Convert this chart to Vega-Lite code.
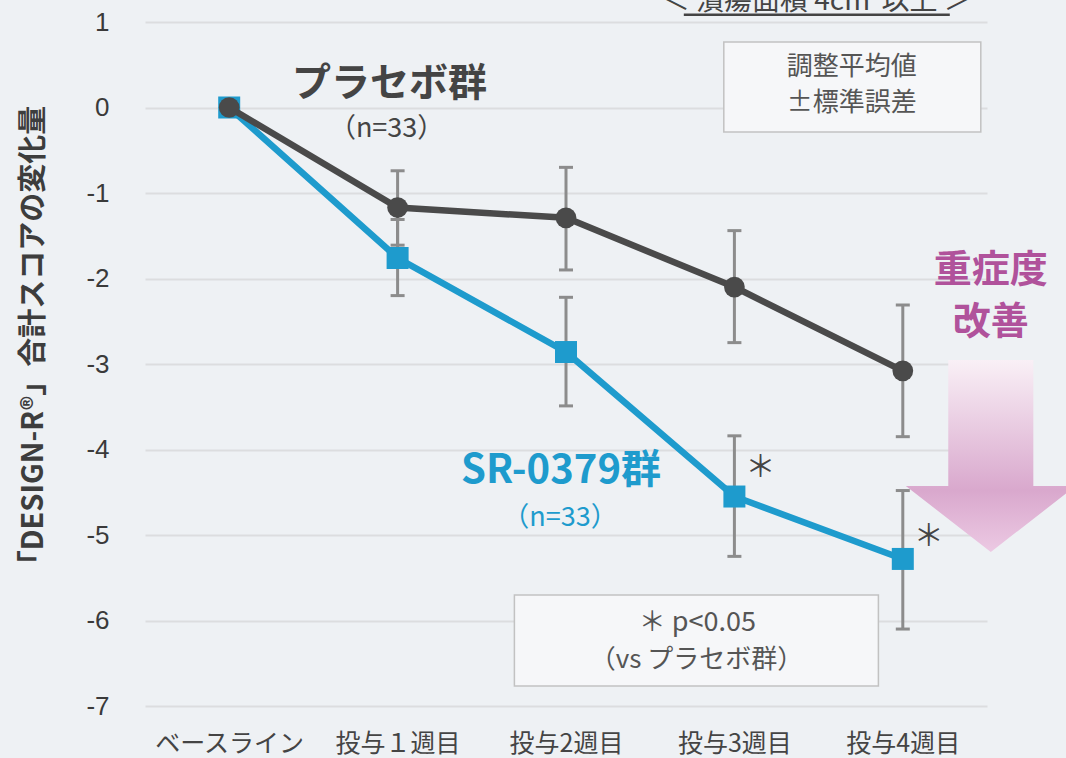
{
  "$schema": "https://vega.github.io/schema/vega-lite/v6.json",
  "width": 842,
  "height": 684,
  "autosize": {"type": "none"},
  "padding": {"left": 145, "top": 22, "right": 79, "bottom": 52},
  "background": "#eef1f4",
  "config": {"view": {"stroke": null}, "font": "Noto Sans CJK JP"},
  "datasets": {
    "pts": [
      {"week": "ベースライン", "group": "SR-0379群", "mean": 0, "lo": null, "hi": null},
      {"week": "投与１週目", "group": "SR-0379群", "mean": -1.76, "lo": -2.2, "hi": -1.31},
      {"week": "投与2週目", "group": "SR-0379群", "mean": -2.86, "lo": -3.49, "hi": -2.22},
      {"week": "投与3週目", "group": "SR-0379群", "mean": -4.55, "lo": -5.25, "hi": -3.84},
      {"week": "投与4週目", "group": "SR-0379群", "mean": -5.28, "lo": -6.1, "hi": -4.48},
      {"week": "ベースライン", "group": "プラセボ群", "mean": 0, "lo": null, "hi": null},
      {"week": "投与１週目", "group": "プラセボ群", "mean": -1.17, "lo": -1.61, "hi": -0.74},
      {"week": "投与2週目", "group": "プラセボ群", "mean": -1.29, "lo": -1.9, "hi": -0.7},
      {"week": "投与3週目", "group": "プラセボ群", "mean": -2.1, "lo": -2.75, "hi": -1.44},
      {"week": "投与4週目", "group": "プラセボ群", "mean": -3.08, "lo": -3.85, "hi": -2.31}
    ],
    "notes": [
      {"t": "note"}
    ]
  },
  "layer": [
    {
      "data": {"name": "pts"},
      "transform": [{"filter": "datum.lo != null"}],
      "mark": {"type": "rule", "color": "#8c8c8c", "strokeWidth": 3},
      "encoding": {
        "x": {
          "field": "week",
          "type": "nominal",
          "sort": null,
          "scale": {"type": "point", "padding": 0.5, "domain": ["ベースライン", "投与１週目", "投与2週目", "投与3週目", "投与4週目"]},
          "axis": {
            "title": null,
            "labelAngle": 0,
            "labelFont": "Noto Sans CJK JP",
            "labelFontSize": 25,
            "labelColor": "#444444",
            "labelPadding": 25,
            "ticks": false,
            "domain": false,
            "grid": false
          }
        },
        "y": {
          "field": "lo",
          "type": "quantitative",
          "scale": {"domain": [-7, 1], "nice": false, "zero": false},
          "axis": {
            "title": "「DESIGN-R®」合計スコアの変化量",
            "titleFont": "Noto Sans CJK JP",
            "titleFontWeight": "bold",
            "titleFontSize": 29,
            "titleColor": "#3d3d3d",
            "titleAngle": -90,
            "titleAlign": "center",
            "titleBaseline": "middle",
            "titleX": -112,
            "titleY": 320,
            "values": [-7, -6, -5, -4, -3, -2, -1, 0, 1],
            "labelExpr": "'' + datum.value",
            "labelFont": "Liberation Sans",
            "labelFontSize": 26,
            "labelColor": "#3a3a3a",
            "labelPadding": 36,
            "ticks": false,
            "domain": false,
            "grid": true,
            "gridColor": "#dcdddf",
            "gridWidth": 2
          }
        },
        "y2": {"field": "hi"}
      }
    },
    {
      "data": {"name": "pts"},
      "transform": [{"filter": "datum.lo != null"}],
      "mark": {"type": "tick", "color": "#8c8c8c", "size": 14, "thickness": 3, "opacity": 1},
      "encoding": {"x": {"field": "week", "type": "nominal"}, "y": {"field": "lo", "type": "quantitative"}}
    },
    {
      "data": {"name": "pts"},
      "transform": [{"filter": "datum.lo != null"}],
      "mark": {"type": "tick", "color": "#8c8c8c", "size": 14, "thickness": 3, "opacity": 1},
      "encoding": {"x": {"field": "week", "type": "nominal"}, "y": {"field": "hi", "type": "quantitative"}}
    },
    {
      "data": {"name": "pts"},
      "transform": [{"filter": "datum.group == 'SR-0379群'"}],
      "mark": {"type": "line", "color": "#1e9bcd", "strokeWidth": 6.5},
      "encoding": {"x": {"field": "week", "type": "nominal"}, "y": {"field": "mean", "type": "quantitative"}}
    },
    {
      "data": {"name": "pts"},
      "transform": [{"filter": "datum.group == 'SR-0379群'"}],
      "mark": {"type": "point", "shape": "square", "filled": true, "color": "#1e9bcd", "size": 484, "opacity": 1},
      "encoding": {"x": {"field": "week", "type": "nominal"}, "y": {"field": "mean", "type": "quantitative"}}
    },
    {
      "data": {"name": "pts"},
      "transform": [{"filter": "datum.group == 'プラセボ群'"}],
      "mark": {"type": "line", "color": "#4a4a4a", "strokeWidth": 6.5},
      "encoding": {"x": {"field": "week", "type": "nominal"}, "y": {"field": "mean", "type": "quantitative"}}
    },
    {
      "data": {"name": "pts"},
      "transform": [{"filter": "datum.group == 'プラセボ群'"}],
      "mark": {"type": "point", "shape": "circle", "filled": true, "color": "#4a4a4a", "size": 430, "opacity": 1},
      "encoding": {"x": {"field": "week", "type": "nominal"}, "y": {"field": "mean", "type": "quantitative"}}
    },
    {
      "data": {"name": "notes"},
      "mark": {"type": "text", "text": "プラセボ群", "fontSize": 39, "fontWeight": "bold", "color": "#444444", "align": "center", "baseline": "middle", "dx": -8},
      "encoding": {"x": {"datum": "投与１週目"}, "y": {"datum": 0.27}}
    },
    {
      "data": {"name": "notes"},
      "mark": {"type": "text", "text": "（n=33）", "fontSize": 27, "color": "#444444", "align": "center", "baseline": "middle", "dx": -11},
      "encoding": {"x": {"datum": "投与１週目"}, "y": {"datum": -0.25}}
    },
    {
      "data": {"name": "notes"},
      "mark": {"type": "text", "text": "SR-0379群", "fontSize": 40, "fontWeight": "bold", "color": "#1e9bcd", "align": "center", "baseline": "middle", "dx": -5},
      "encoding": {"x": {"datum": "投与2週目"}, "y": {"datum": -4.255}}
    },
    {
      "data": {"name": "notes"},
      "mark": {"type": "text", "text": "（n=33）", "fontSize": 27, "color": "#1e9bcd", "align": "center", "baseline": "middle", "dx": -6},
      "encoding": {"x": {"datum": "投与2週目"}, "y": {"datum": -4.8}}
    },
    {
      "data": {"name": "notes"},
      "mark": {"type": "text", "text": "＊", "fontSize": 30, "color": "#444444", "align": "center", "baseline": "middle", "dx": 26},
      "encoding": {"x": {"datum": "投与3週目"}, "y": {"datum": -4.216}}
    },
    {
      "data": {"name": "notes"},
      "mark": {"type": "text", "text": "＊", "fontSize": 30, "color": "#444444", "align": "center", "baseline": "middle", "dx": 26},
      "encoding": {"x": {"datum": "投与4週目"}, "y": {"datum": -5.023}}
    },
    {
      "data": {"name": "notes"},
      "mark": {"type": "point", "shape": "M-1,-0.35L1,-0.35L1,0.35L-1,0.35Z", "filled": true, "fill": "#f6f7f9", "stroke": "#c2c2c2", "strokeWidth": 1.5, "size": 66049, "opacity": 1, "xOffset": -50.5},
      "encoding": {"x": {"datum": "投与4週目"}, "y": {"datum": 0.24}}
    },
    {
      "data": {"name": "notes"},
      "mark": {"type": "text", "text": "調整平均値", "fontSize": 26, "color": "#555555", "align": "center", "baseline": "middle", "dx": -51},
      "encoding": {"x": {"datum": "投与4週目"}, "y": {"datum": 0.47}}
    },
    {
      "data": {"name": "notes"},
      "mark": {"type": "text", "text": "±標準誤差", "fontSize": 26, "color": "#555555", "align": "center", "baseline": "middle", "dx": -51},
      "encoding": {"x": {"datum": "投与4週目"}, "y": {"datum": 0.055}}
    },
    {
      "data": {"name": "notes"},
      "mark": {"type": "point", "shape": "M-1,-0.25L1,-0.25L1,0.25L-1,0.25Z", "filled": true, "fill": "#f6f7f9", "stroke": "#c2c2c2", "strokeWidth": 1.5, "size": 132496, "opacity": 1, "xOffset": -38},
      "encoding": {"x": {"datum": "投与3週目"}, "y": {"datum": -6.234}}
    },
    {
      "data": {"name": "notes"},
      "mark": {"type": "text", "text": "＊ p<0.05", "fontSize": 27, "color": "#555555", "align": "center", "baseline": "middle", "dx": -37},
      "encoding": {"x": {"datum": "投与3週目"}, "y": {"datum": -6.025}}
    },
    {
      "data": {"name": "notes"},
      "mark": {"type": "text", "text": "（vs プラセボ群）", "fontSize": 26, "color": "#555555", "align": "center", "baseline": "middle", "dx": -38},
      "encoding": {"x": {"datum": "投与3週目"}, "y": {"datum": -6.465}}
    },
    {
      "data": {"name": "notes"},
      "mark": {
        "type": "point",
        "shape": "M-0.443,-1L0.443,-1L0.443,0.3125L0.885,0.3125L0,1L-0.885,0.3125L-0.443,0.3125Z",
        "filled": true,
        "color": {"gradient": "linear", "x1": 0, "y1": 0, "x2": 0, "y2": 1, "stops": [{"offset": 0, "color": "#f9f0f6"}, {"offset": 0.68, "color": "#d9a8cd"}, {"offset": 1, "color": "#ecc9e3"}]},
        "size": 36864,
        "opacity": 1,
        "xOffset": 88
      },
      "encoding": {"x": {"datum": "投与4週目"}, "y": {"datum": -4.076}}
    },
    {
      "data": {"name": "notes"},
      "mark": {"type": "text", "text": "重症度", "fontSize": 38, "fontWeight": "bold", "color": "#b0529b", "align": "center", "baseline": "middle", "dx": 88},
      "encoding": {"x": {"datum": "投与4週目"}, "y": {"datum": -1.915}}
    },
    {
      "data": {"name": "notes"},
      "mark": {"type": "text", "text": "改善", "fontSize": 38, "fontWeight": "bold", "color": "#b0529b", "align": "center", "baseline": "middle", "dx": 88},
      "encoding": {"x": {"datum": "投与4週目"}, "y": {"datum": -2.52}}
    },
    {
      "data": {"name": "notes"},
      "mark": {"type": "text", "text": "＜  潰瘍面積 4cm²以上  ＞", "fontSize": 28, "color": "#444444", "align": "center", "baseline": "alphabetic", "dx": -86},
      "encoding": {"x": {"datum": "投与4週目"}, "y": {"datum": 1.14}}
    },
    {
      "data": {"name": "notes"},
      "mark": {"type": "point", "shape": "M-1,0L1,0", "filled": false, "color": "#444444", "strokeWidth": 2.5, "size": 70756, "opacity": 1, "xOffset": -86},
      "encoding": {"x": {"datum": "投与4週目"}, "y": {"datum": 1.085}}
    }
  ]
}
